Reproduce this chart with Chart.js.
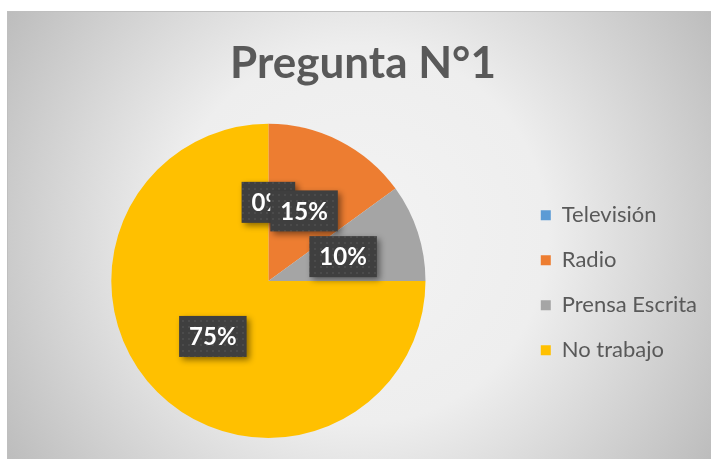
<!DOCTYPE html>
<html>
<head>
<meta charset="utf-8">
<script src="https://cdn.jsdelivr.net/npm/chart.js@4.4.1/dist/chart.umd.min.js"></script>
<style>
    html, body { margin: 0; padding: 0; background: #ffffff; }
    canvas { display: block; }
</style>
</head>
<body>
<canvas id="chart" width="711" height="459"></canvas>
<script>
    // Data
    const categories = ['Televisión', 'Radio', 'Prensa Escrita', 'No trabajo'];
    const values = [0, 15, 10, 75];
    const sliceColors = ['#5b9bd5', '#ed7d31', '#a5a5a5', '#ffc000'];
    const chartTitle = 'Pregunta N°1';

    const FONT = 'Lato, "Open Sans", sans-serif';

    // Grey radial panel behind everything
    const panelBackground = {
        id: 'panelBackground',
        beforeDraw(chart) {
            const { ctx, width, height } = chart;
            ctx.save();
            ctx.fillStyle = '#ffffff';
            ctx.fillRect(0, 0, width, height);
            const cx = 359, cy = 235;
            const grad = ctx.createRadialGradient(cx, cy, 0, cx, cy, 420);
            grad.addColorStop(0, '#f3f3f3');
            grad.addColorStop(0.45, '#eeeeee');
            grad.addColorStop(1, '#bcbcbc');
            ctx.fillStyle = grad;
            ctx.fillRect(7, 11, width - 7, height - 11);
            ctx.strokeStyle = '#bfbfbf';
            ctx.lineWidth = 1;
            ctx.strokeRect(7.5, 11.5, width, height);
            ctx.restore();
        }
    };

    // Dark dotted boxes with percentage text
    function makeDotPattern(ctx) {
        const tile = document.createElement('canvas');
        tile.width = 6;
        tile.height = 6;
        const t = tile.getContext('2d');
        t.fillStyle = '#3f3f3f';
        t.fillRect(0, 0, 6, 6);
        t.fillStyle = '#4b4b4b';
        t.fillRect(2, 2, 2, 2);
        return ctx.createPattern(tile, 'repeat');
    }

    const percentLabels = {
        id: 'percentLabels',
        afterDatasetsDraw(chart) {
            const { ctx } = chart;
            const meta = chart.getDatasetMeta(0);
            const total = values.reduce((a, b) => a + b, 0);
            const pattern = makeDotPattern(ctx);
            ctx.save();
            ctx.font = 'bold 24px ' + FONT;
            ctx.textAlign = 'center';
            ctx.textBaseline = 'middle';
            meta.data.forEach((arc, i) => {
                const pos = arc.tooltipPosition();
                const text = Math.round(values[i] / total * 100) + '%';
                const w = ctx.measureText(text).width + 20;
                const h = 41;
                ctx.shadowColor = 'rgba(0,0,0,0.45)';
                ctx.shadowBlur = 6;
                ctx.shadowOffsetX = 3;
                ctx.shadowOffsetY = 3;
                ctx.fillStyle = pattern;
                ctx.fillRect(pos.x - w / 2, pos.y - h / 2, w, h);
                ctx.shadowColor = 'transparent';
                ctx.fillStyle = '#ffffff';
                ctx.fillText(text, pos.x, pos.y + 1);
            });
            ctx.restore();
        }
    };

    new Chart(document.getElementById('chart'), {
        type: 'pie',
        data: {
            labels: categories,
            datasets: [{
                data: values,
                backgroundColor: sliceColors,
                borderWidth: 0
            }]
        },
        options: {
            responsive: false,
            animation: false,
            layout: {
                padding: { left: 19, right: 4, top: 11, bottom: 21 }
            },
            plugins: {
                title: {
                    display: true,
                    text: chartTitle,
                    color: '#595959',
                    font: { family: FONT, size: 44, weight: 'bold' },
                    padding: { top: 26, bottom: 34 }
                },
                legend: {
                    position: 'right',
                    title: {
                        display: true,
                        text: '',
                        font: { size: 12 },
                        padding: { top: 51, bottom: 51 }
                    },
                    labels: {
                        boxWidth: 10,
                        boxHeight: 10,
                        padding: 23,
                        color: '#595959',
                        font: { family: FONT, size: 22 }
                    }
                },
                tooltip: { enabled: false }
            }
        },
        plugins: [panelBackground, percentLabels]
    });
</script>
</body>
</html>
